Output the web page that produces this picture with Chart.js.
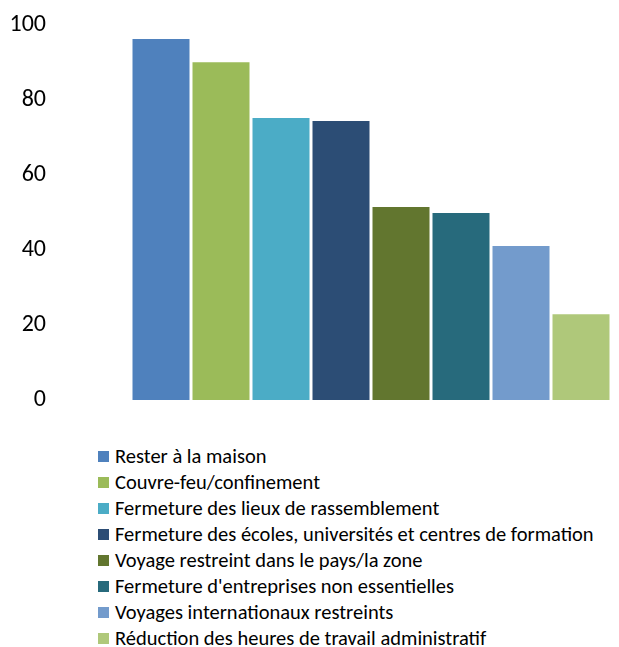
<!DOCTYPE html>
<html>
<head>
<meta charset="utf-8">
<script src="https://cdn.jsdelivr.net/npm/chart.js@4.4.1/dist/chart.umd.min.js"></script>
<style>
  html, body { margin: 0; padding: 0; background: #fff; }
  #wrap { position: relative; width: 619px; height: 420px; }
  #legend { list-style: none; margin: 0; padding: 0; position: absolute; left: 98px; top: 443px;
    font-family: Carlito, Lato, sans-serif; font-size: 20.5px; color: #000; }
  #legend li { height: 26px; line-height: 26px; white-space: nowrap; display: flex; align-items: center; }
  #legend span.box { width: 11px; height: 11px; margin-right: 6px; flex: none; }
</style>
</head>
<body>
<div id="wrap"><canvas id="chart" width="619" height="420"></canvas></div>
<ul id="legend"></ul>
<script>
const categories = [
  "Rester à la maison",
  "Couvre-feu/confinement",
  "Fermeture des lieux de rassemblement",
  "Fermeture des écoles, universités et centres de formation",
  "Voyage restreint dans le pays/la zone",
  "Fermeture d'entreprises non essentielles",
  "Voyages internationaux restreints",
  "Réduction des heures de travail administratif"
];
const values = [96.3, 90.1, 75.2, 74.4, 51.5, 49.9, 41.1, 22.9];
const yTicks = [0, 20, 40, 60, 80, 100];
const colors = ["#4F81BD", "#9BBB59", "#4BACC6", "#2C4D75", "#62762F", "#276A7C", "#739BCC", "#AFC87A"];

const ctx = document.getElementById("chart").getContext("2d");
const chart = new Chart(ctx, {
  type: "bar",
  data: {
    labels: [""],
    datasets: categories.map((name, i) => ({
      label: name,
      data: [values[i]],
      backgroundColor: colors[i],
      borderWidth: 0,
      categoryPercentage: 1,
      barPercentage: 0.95
    }))
  },
  options: {
    responsive: false,
    animation: false,
    layout: { padding: { top: 25, right: 8, bottom: 20, left: 0 } },
    plugins: {
      legend: { display: false },
      tooltip: { enabled: false }
    },
    scales: {
      x: { display: false },
      y: {
        min: 0,
        max: 100,
        afterBuildTicks: (scale) => { scale.ticks = yTicks.map(v => ({ value: v })); },
        afterFit: (scale) => {
          // wide empty gap between labels and bars, as in the original
          scale.width = 131;
          scale.paddingTop = 0;
          scale.paddingBottom = 0;
        },
        grid: { display: false, drawTicks: false },
        border: { display: false },
        ticks: {
          padding: 85,
          color: "#000",
          font: { family: "Carlito, Lato, sans-serif", size: 24 }
        }
      }
    }
  }
});

// legend, one entry per line like the original
const legendEl = document.getElementById("legend");
chart.options.plugins.legend.labels.generateLabels(chart).forEach(item => {
  const li = document.createElement("li");
  const box = document.createElement("span");
  box.className = "box";
  box.style.background = item.fillStyle;
  li.appendChild(box);
  li.appendChild(document.createTextNode(item.text));
  legendEl.appendChild(li);
});
</script>
</body>
</html>
